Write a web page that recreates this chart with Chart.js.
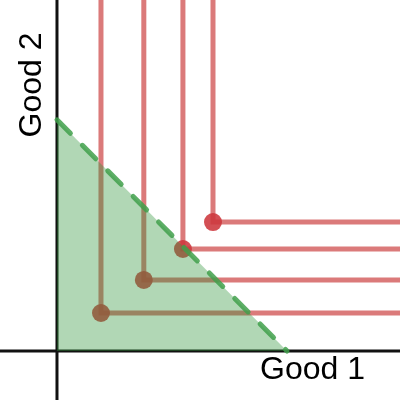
<!DOCTYPE html>
<html>
<head>
<meta charset="utf-8">
<script src="https://cdn.jsdelivr.net/npm/chart.js@4/dist/chart.umd.min.js"></script>
<style>
  html, body { margin: 0; padding: 0; background: #fff; }
  #wrap { width: 400px; height: 400px; }
</style>
</head>
<body>
<div id="wrap"><canvas id="c" width="400" height="400"></canvas></div>
<script>
// ---- data ----
const axisTitles = ['Good 1', 'Good 2'];
const cornerX = [0.765, 1.51, 2.19, 2.713];
const cornerY = [0.661, 1.235, 1.774, 2.243];
const budgetX = [0, 4.0];
const budgetY = [4.02, 0];
const xRange = [-0.991, 5.965];
const yRange = [-0.852, 6.104];

// ---- build datasets ----
const redLine = 'rgba(200,50,50,0.65)';
const redPoint = 'rgba(205,55,60,0.88)';
const datasets = [];

// axes
datasets.push({
  data: [{x: 0, y: yRange[0]}, {x: 0, y: yRange[1]}],
  showLine: true, borderColor: '#111', borderWidth: 3, pointRadius: 0, order: 4
});
datasets.push({
  data: [{x: xRange[0], y: 0}, {x: xRange[1], y: 0}],
  showLine: true, borderColor: '#111', borderWidth: 3, pointRadius: 0, order: 4
});

// Leontief indifference curves
cornerX.forEach((cx, i) => {
  const cy = cornerY[i];
  datasets.push({
    data: [{x: cx, y: yRange[1]}, {x: cx, y: cy}, {x: xRange[1], y: cy}],
    showLine: true, borderColor: redLine, borderWidth: 5, pointRadius: 0,
    borderJoinStyle: 'miter', order: 3
  });
});

// corner points
datasets.push({
  data: cornerX.map((cx, i) => ({x: cx, y: cornerY[i]})),
  showLine: false, pointRadius: 9, pointBackgroundColor: redPoint,
  pointBorderWidth: 0, order: 2
});

// budget set (fill) and budget line (dashed)
datasets.push({
  data: budgetX.map((bx, i) => ({x: bx, y: budgetY[i]})),
  showLine: true, fill: 'origin', backgroundColor: 'rgba(50,150,60,0.38)',
  borderColor: 'rgba(65,160,75,0.85)', borderWidth: 5, borderDash: [19, 17],
  borderCapStyle: 'round', pointRadius: 0, order: 0
});

const labelPlugin = {
  id: 'labels',
  afterDraw(chart) {
    const ctx = chart.ctx;
    ctx.save();
    ctx.fillStyle = '#000';
    ctx.font = '32px "Liberation Sans", Arial, sans-serif';
    ctx.textAlign = 'center';
    ctx.textBaseline = 'alphabetic';
    ctx.fillText(axisTitles[0], 312.5, 379);
    ctx.translate(40.5, 85);
    ctx.rotate(-Math.PI / 2);
    ctx.fillText(axisTitles[1], 0, 0);
    ctx.restore();
  }
};

new Chart(document.getElementById('c'), {
  type: 'scatter',
  data: { datasets },
  options: {
    responsive: false,
    animation: false,
    layout: { padding: 0, autoPadding: false },
    plugins: { legend: { display: false }, tooltip: { enabled: false } },
    scales: {
      x: { type: 'linear', min: xRange[0], max: xRange[1], display: false },
      y: { type: 'linear', min: yRange[0], max: yRange[1], display: false }
    }
  },
  plugins: [labelPlugin]
});
</script>
</body>
</html>
